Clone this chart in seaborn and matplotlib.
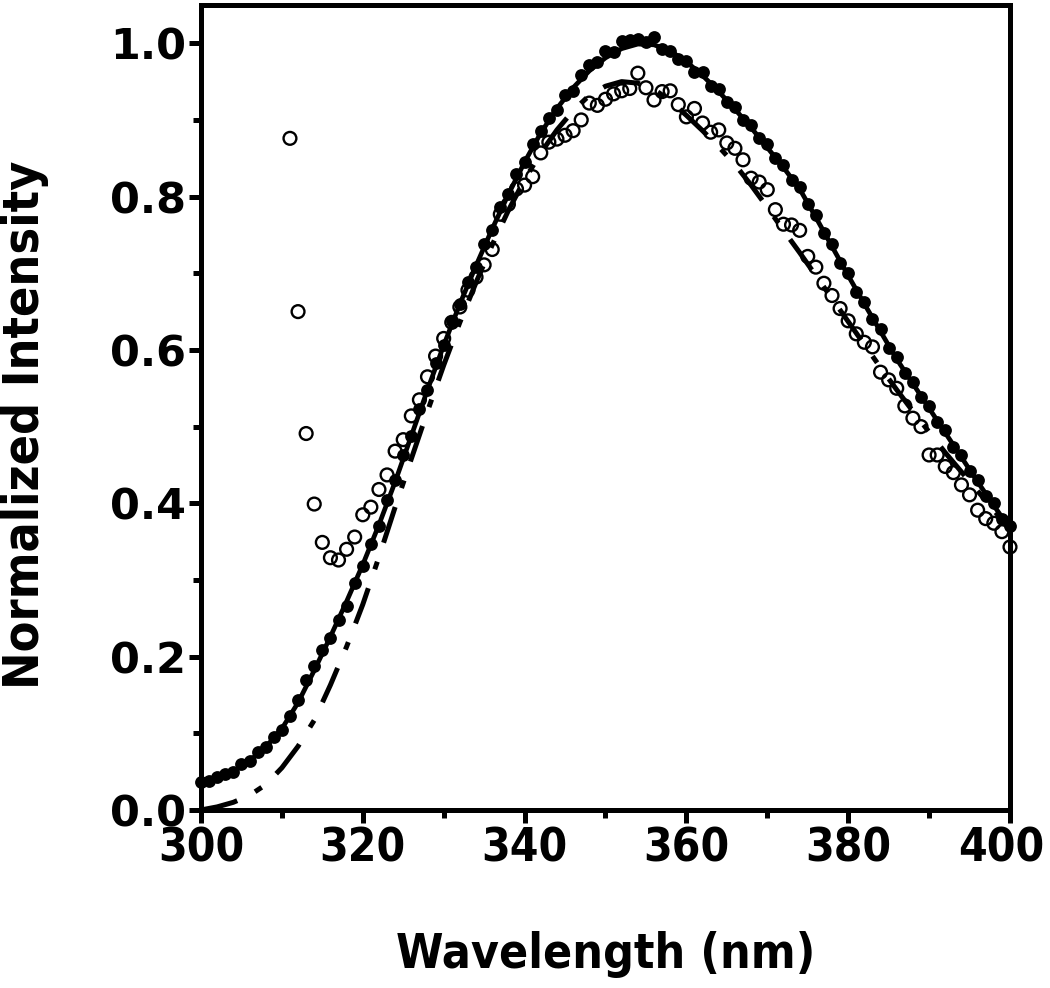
import matplotlib
matplotlib.use("Agg")
import os
import matplotlib.pyplot as plt
import matplotlib.transforms as mtransforms
import seaborn as sns
from matplotlib import font_manager
from matplotlib.font_manager import FontProperties
from matplotlib.ticker import MultipleLocator

# filled circles (sample A), 1 nm steps
wl_filled = list(range(300, 401))
int_filled = [
    0.036, 0.038, 0.043, 0.047, 0.049, 0.060, 0.064, 0.076, 0.082, 0.095,
    0.104, 0.123, 0.144, 0.170, 0.188, 0.209, 0.224, 0.248, 0.266, 0.296,
    0.318, 0.347, 0.370, 0.404, 0.430, 0.463, 0.488, 0.523, 0.548, 0.583,
    0.607, 0.638, 0.660, 0.689, 0.708, 0.738, 0.757, 0.787, 0.803, 0.829,
    0.845, 0.869, 0.886, 0.903, 0.913, 0.932, 0.938, 0.958, 0.972, 0.975,
    0.990, 0.988, 1.003, 1.004, 1.006, 1.002, 1.008, 0.993, 0.990, 0.979,
    0.977, 0.963, 0.962, 0.944, 0.940, 0.924, 0.917, 0.900, 0.893, 0.876,
    0.868, 0.850, 0.841, 0.822, 0.812, 0.790, 0.776, 0.752, 0.738, 0.714,
    0.700, 0.676, 0.663, 0.640, 0.627, 0.603, 0.591, 0.570, 0.558, 0.538,
    0.527, 0.506, 0.495, 0.474, 0.463, 0.442, 0.431, 0.410, 0.400, 0.380,
    0.370,
]

# open circles (sample B), 1 nm steps from 311
wl_open = list(range(311, 401))
int_open = [
    0.876, 0.650, 0.491, 0.399, 0.349, 0.329, 0.326, 0.340, 0.356,
    0.385, 0.395, 0.418, 0.437, 0.468, 0.483, 0.514, 0.535, 0.565, 0.592,
    0.615, 0.636, 0.656, 0.678, 0.695, 0.711, 0.731, 0.777, 0.790, 0.810,
    0.815, 0.826, 0.857, 0.871, 0.875, 0.880, 0.886, 0.900, 0.922, 0.919,
    0.927, 0.934, 0.938, 0.941, 0.961, 0.942, 0.926, 0.937, 0.938, 0.920,
    0.904, 0.915, 0.896, 0.884, 0.887, 0.870, 0.863, 0.848, 0.824, 0.819,
    0.809, 0.783, 0.764, 0.763, 0.756, 0.722, 0.708, 0.687, 0.671, 0.654,
    0.638, 0.621, 0.610, 0.604, 0.571, 0.561, 0.550, 0.527, 0.511, 0.500,
    0.463, 0.463, 0.448, 0.440, 0.424, 0.411, 0.391, 0.380, 0.374, 0.363,
    0.343,
]

# fitted curves, 2 nm steps
wl_fit = list(range(300, 401, 2))
fit_filled = [
    0.033, 0.040, 0.050, 0.064, 0.082, 0.106, 0.140, 0.182, 0.226, 0.272,
    0.320, 0.372, 0.428, 0.488, 0.548, 0.606, 0.660, 0.710, 0.758, 0.803,
    0.845, 0.883, 0.915, 0.942, 0.964, 0.981, 0.993, 0.999, 0.998, 0.990,
    0.976, 0.958, 0.937, 0.914, 0.890, 0.864, 0.838, 0.810, 0.773, 0.735,
    0.697, 0.660, 0.624, 0.588, 0.556, 0.524, 0.492, 0.460, 0.428, 0.397,
    0.367,
]
fit_open = [
    0.000, 0.004, 0.010, 0.019, 0.033, 0.055, 0.083, 0.117, 0.163, 0.213,
    0.268, 0.330, 0.395, 0.458, 0.520, 0.580, 0.636, 0.688, 0.737, 0.782,
    0.822, 0.857, 0.887, 0.912, 0.932, 0.944, 0.950, 0.948, 0.940, 0.925,
    0.906, 0.886, 0.865, 0.842, 0.815, 0.786, 0.756, 0.727, 0.697, 0.667,
    0.637, 0.607, 0.577, 0.548, 0.520, 0.493, 0.466, 0.441, 0.416, 0.391,
    0.366,
]


def find_narrow_bold():
    # look for a condensed / narrow bold face among the installed fonts
    files = [f.fname for f in font_manager.fontManager.ttflist]
    for key in ["LiberationSansNarrow-Bold.", "DejaVuSansCondensed-Bold."]:
        for p in files:
            if os.path.basename(p).startswith(key):
                return p, True
    return None, False


narrow_path, is_narrow = find_narrow_bold()


def narrow_font(size):
    if narrow_path:
        return FontProperties(fname=narrow_path, size=size)
    return FontProperties(family='Liberation Sans', weight='bold', size=size)


sns.set_theme(style="ticks")
plt.rcParams['font.family'] = ['Liberation Sans', 'DejaVu Sans']
plt.rcParams['text.color'] = 'black'
plt.rcParams['xtick.color'] = 'black'
plt.rcParams['ytick.color'] = 'black'
plt.rcParams['axes.labelcolor'] = 'black'

fig = plt.figure(figsize=(10.5, 9.88), dpi=100)
ax = fig.add_axes([0.1914, 0.1802, 0.7705, 0.8148])

sns.lineplot(x=wl_fit, y=fit_filled, color='black', lw=3.4, ax=ax, zorder=2)
sns.lineplot(x=wl_fit, y=fit_open, color='black', lw=3.6,
             linestyle=(0, (7.5, 4, 1.6, 4)), ax=ax, zorder=2)
sns.scatterplot(x=wl_filled, y=int_filled, color='black', s=85, linewidth=0,
                ax=ax, zorder=3, clip_on=False)
sns.scatterplot(x=wl_open, y=int_open, facecolor='none', edgecolor='black',
                s=85, linewidth=1.7, ax=ax, zorder=4, clip_on=False)

ax.set_xlim(300, 400)
ax.set_ylim(0, 1.05)
ax.xaxis.set_major_locator(MultipleLocator(20))
ax.xaxis.set_minor_locator(MultipleLocator(10))
ax.yaxis.set_major_locator(MultipleLocator(0.2))
ax.yaxis.set_minor_locator(MultipleLocator(0.1))

for s in ax.spines.values():
    s.set_linewidth(3.6)
    s.set_color('black')
ax.tick_params(which='major', length=9, width=3.6, color='black', direction='out')
ax.tick_params(which='minor', length=6, width=3.6, color='black', direction='out')
ax.tick_params(axis='x', which='major', pad=3)
ax.tick_params(axis='y', which='major', pad=2, labelsize=31)

xsize = 33 if is_narrow else 31
xlabels = ax.get_xticklabels()
plt.setp(xlabels, fontproperties=narrow_font(xsize), color='black')
plt.setp(ax.get_yticklabels(), family='DejaVu Sans', fontweight='bold', color='black')

# nudge the last x label a little so it stays inside the figure
last = [t for t in xlabels if t.get_text() == '400']
for t in last:
    t.set_transform(t.get_transform() + mtransforms.ScaledTranslation(-6 / 72, 0, fig.dpi_scale_trans))

ax.set_xlabel('Wavelength (nm)', fontproperties=narrow_font(34.5 if is_narrow else 32),
              va='center', color='black')
ax.set_ylabel('Normalized Intensity', fontproperties=narrow_font(36 if is_narrow else 33),
              va='center', color='black')
ax.xaxis.set_label_coords(0.5006, -0.18)
ax.yaxis.set_label_coords(-0.2176, 0.478)

fig.savefig('out.png', dpi=100)
